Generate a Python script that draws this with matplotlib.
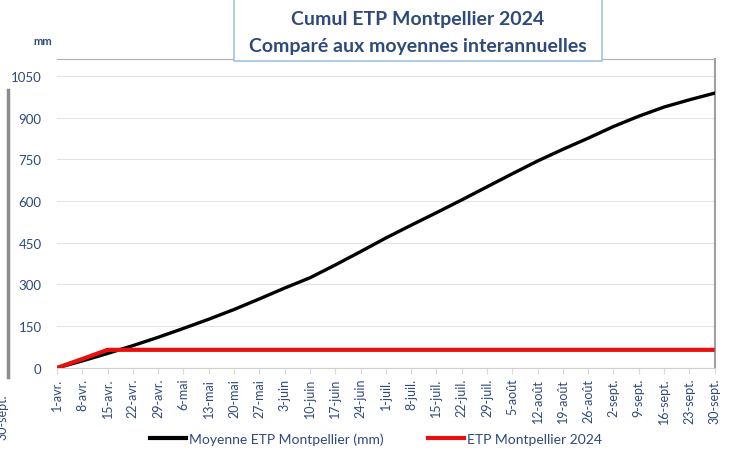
import matplotlib.pyplot as plt
from matplotlib.patches import Rectangle
from matplotlib.lines import Line2D

plt.rcParams['font.family'] = ['Lato', 'DejaVu Sans']

dates = ['1-avr.', '8-avr.', '15-avr.', '22-avr.', '29-avr.', '6-mai', '13-mai',
         '20-mai', '27-mai', '3-juin', '10-juin', '17-juin', '24-juin', '1-juil.',
         '8-juil.', '15-juil.', '22-juil.', '29-juil.', '5-août', '12-août',
         '19-août', '26-août', '2-sept.', '9-sept.', '16-sept.', '23-sept.', '30-sept.']
moyenne = [0, 25, 52, 80, 110, 142, 175, 210, 248, 287, 324, 370, 418, 467,
           513, 558, 604, 651, 698, 744, 786, 826, 868, 905, 938, 964, 988]
etp_2024 = [0, 32, 65, 65, 65, 65, 65, 65, 65, 65, 65, 65, 65, 65,
            65, 65, 65, 65, 65, 65, 65, 65, 65, 65, 65, 65, 65]
y_ticks = [0, 150, 300, 450, 600, 750, 900, 1050]

bleu = '#2E4A7A'

fig = plt.figure(figsize=(7.3, 4.56), dpi=100)
ax = fig.add_axes([0.078, 0.191, 0.901, 0.677])

x = list(range(len(dates)))
ax.plot(x, moyenne, color='black', lw=2.4, solid_capstyle='round', zorder=3)
ax.plot(x, etp_2024, color='#E8100F', lw=3.0, solid_capstyle='butt', zorder=4)

ax.set_xlim(0, len(dates) - 1)
ax.set_ylim(0, 1110)
ax.set_yticks(y_ticks)
ax.set_yticklabels([str(v) for v in y_ticks], color=bleu, fontsize=9.5)
ax.set_xticks(x)
ax.set_xticklabels(dates, rotation=90, color=bleu, fontsize=9)
ax.tick_params(axis='y', length=0, pad=11)
ax.tick_params(axis='x', length=4, color='#D9D9D9', pad=3)
ax.grid(axis='y', color='#E3E3E3', lw=0.8)
ax.set_axisbelow(True)

ax.spines['left'].set_visible(False)
ax.spines['bottom'].set_color('#D0D0D0')
ax.spines['top'].set_color('#B0B0B0')
ax.spines['right'].set_color('#A0A0A0')
ax.spines['right'].set_linewidth(1.5)

fig.text(0.058, 0.902, 'mm', color=bleu, fontsize=8, fontweight='bold', ha='center')

# cadre du titre
fig.patches.append(Rectangle((0.320, 0.865), 0.505, 0.14, transform=fig.transFigure,
                             facecolor='white', edgecolor='#9DC3E6', lw=1.2, zorder=5))
fig.text(0.572, 0.958, 'Cumul ETP Montpellier 2024', color=bleu, fontsize=14,
         fontweight='bold', ha='center', va='center', zorder=6)
fig.text(0.572, 0.897, 'Comparé aux moyennes interannuelles', color=bleu, fontsize=14,
         fontweight='bold', ha='center', va='center', zorder=6)

# légende
handles = [Line2D([], [], color='black', lw=3),
           Line2D([], [], color='#E8100F', lw=3)]
fig.legend(handles, ['Moyenne ETP Montpellier (mm)', 'ETP Montpellier 2024'],
           loc='center', bbox_to_anchor=(0.515, 0.035), ncol=2, frameon=False,
           fontsize=10, labelcolor=bleu, handlelength=2.6, handletextpad=0.2,
           columnspacing=3.2)

# bord du graphique voisin
fig.add_artist(Line2D([0.011, 0.011], [0.17, 0.8], transform=fig.transFigure,
                      color='#8C8C8C', lw=2.5))
fig.text(0.004, 0.085, '30-sept.', rotation=90, color=bleu, fontsize=9,
         ha='center', va='center')

fig.savefig('out.png', dpi=100)
